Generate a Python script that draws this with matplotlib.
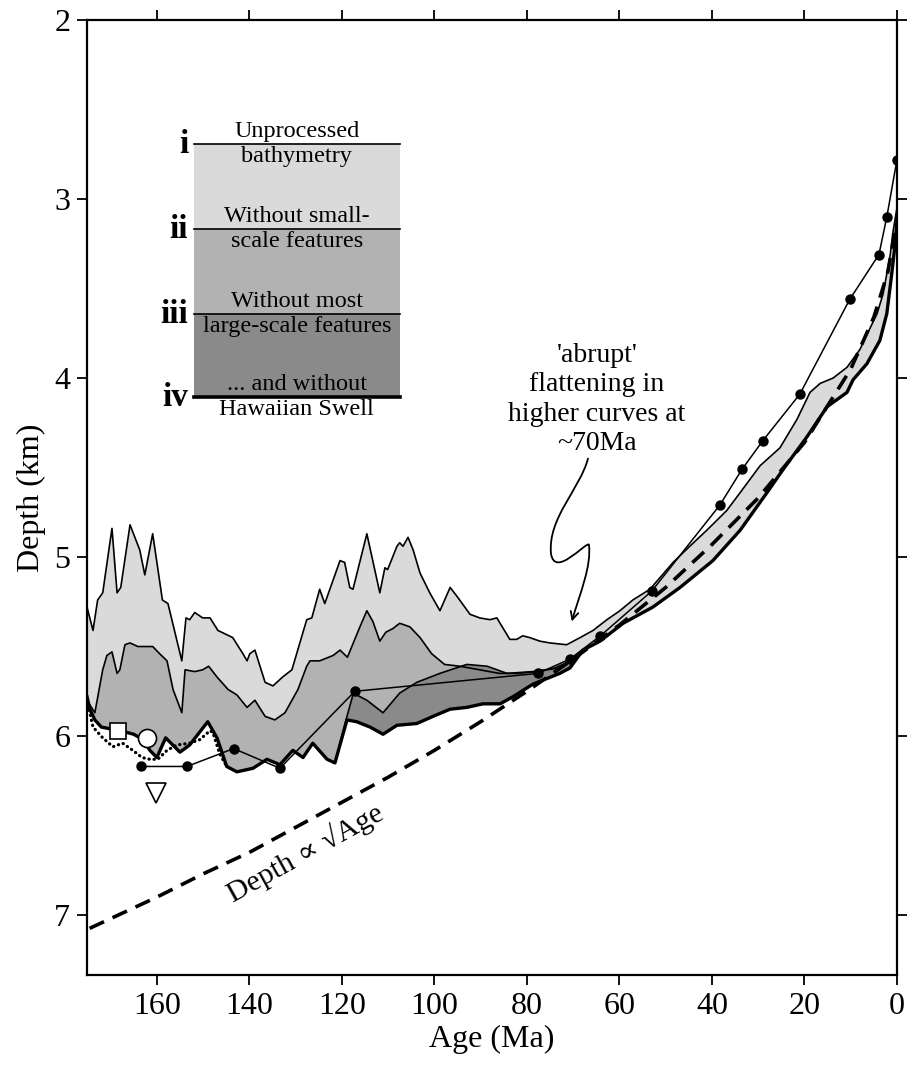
import numpy as np
import matplotlib
matplotlib.use('Agg')
import matplotlib.pyplot as plt
from matplotlib.path import Path
from matplotlib.patches import FancyArrowPatch, Rectangle

plt.rcParams['font.family'] = ['Liberation Serif', 'DejaVu Serif']

# ---- curve i : unprocessed bathymetry ----
age_i = [175.1, 173.8, 172.8, 171.7, 169.7, 168.6, 167.8, 165.8, 163.7, 162.6, 160.9, 158.8,
         157.6, 154.6, 153.7, 152.9, 151.8, 150.1, 148.5, 146.8, 143.6, 141.4, 140.5, 139.9,
         138.8, 136.6, 134.9, 132.8, 130.8, 127.6, 126.5, 124.8, 123.7, 120.4, 119.4, 118.3,
         117.6, 114.6, 111.8, 110.7, 110.1, 108.1, 107.5, 106.8, 105.7, 104.6, 103.1, 101.0,
         98.8, 96.6, 95.1, 92.3, 90.2, 88.0, 86.5, 83.7, 82.2, 80.9, 79.4, 77.2, 75.0, 71.4,
         68.5, 65.7, 62.7, 59.9, 57.1, 53.4, 48.4, 44.8, 41.1, 36.8, 33.9, 29.6, 25.3, 21.6,
         18.8, 16.6, 13.8, 10.8, 8.0, 5.8, 4.3, 3.0, 1.5, 0.9, 0.2, 0.0]
depth_i = [5.28, 5.41, 5.24, 5.20, 4.84, 5.20, 5.17, 4.82, 4.96, 5.10, 4.87, 5.24,
           5.26, 5.58, 5.34, 5.35, 5.31, 5.34, 5.34, 5.41, 5.45, 5.54, 5.58, 5.54,
           5.52, 5.70, 5.72, 5.67, 5.63, 5.35, 5.34, 5.18, 5.26, 5.02, 5.03, 5.17,
           5.18, 4.87, 5.20, 5.06, 5.07, 4.94, 4.92, 4.94, 4.89, 4.96, 5.09, 5.20,
           5.30, 5.17, 5.22, 5.32, 5.34, 5.35, 5.34, 5.46, 5.46, 5.44, 5.45, 5.47, 5.48, 5.49,
           5.45, 5.41, 5.35, 5.30, 5.24, 5.18, 5.03, 4.94, 4.85, 4.74, 4.64, 4.49, 4.39, 4.23,
           4.08, 4.03, 4.00, 3.94, 3.84, 3.72, 3.64, 3.53, 3.32, 3.19, 3.08, 3.05]

# ---- curve ii : without small-scale features ----
age_ii = [175.1, 173.4, 171.7, 170.8, 169.7, 168.6, 168.0, 166.9, 165.8, 164.1, 160.9, 159.4,
          157.8, 156.5, 154.6, 153.9, 151.8, 150.1, 148.8, 147.0, 144.6, 142.7, 140.5, 138.8,
          136.6, 134.5, 132.3, 129.5, 127.6, 126.9, 124.8, 121.9, 120.4, 118.8, 116.1, 114.6,
          113.3, 111.8, 110.5, 109.0, 107.5, 105.3, 103.1, 100.6, 97.8, 94.5, 90.2, 86.0,
          82.0, 78.0, 74.0, 71.4, 67.9]
depth_ii = [5.80, 5.87, 5.63, 5.55, 5.53, 5.65, 5.63, 5.49, 5.48, 5.50, 5.50, 5.54,
            5.58, 5.74, 5.87, 5.63, 5.64, 5.63, 5.61, 5.67, 5.74, 5.77, 5.84, 5.80,
            5.89, 5.91, 5.87, 5.74, 5.61, 5.58, 5.58, 5.55, 5.52, 5.56, 5.39, 5.30,
            5.36, 5.47, 5.42, 5.40, 5.37, 5.39, 5.45, 5.54, 5.60, 5.61, 5.63, 5.65,
            5.65, 5.64, 5.62, 5.59, 5.52]

# ---- curve iii : without most large-scale features ----
age_iii = [126.3, 123.2, 121.5, 119.0, 117.5, 116.1, 114.6, 111.1, 107.5, 103.8, 98.8,
           93.0, 88.6, 84.3, 78.7, 72.9, 70.0, 67.9]
depth_iii = [6.04, 6.13, 6.15, 5.90, 5.76, 5.78, 5.80, 5.87, 5.76, 5.70, 5.65,
             5.60, 5.61, 5.65, 5.64, 5.62, 5.58, 5.52]

# ---- curve iv : ... and without Hawaiian Swell ----
age_iv = [175.1, 174.5, 173.4, 172.0, 170.0, 168.0, 165.0, 163.0, 161.5, 160.0, 158.1, 155.0,
          152.9, 149.0, 147.0, 144.9, 142.7, 139.2, 136.2, 133.4, 130.6, 128.4, 126.3, 123.2,
          121.5, 118.9, 116.8, 113.9, 111.1, 108.1, 103.8, 100.3, 96.6, 93.0, 89.5, 85.8,
          83.0, 78.7, 72.9, 70.7, 67.9, 64.2, 59.2, 52.8, 46.9, 39.8, 33.9, 28.1, 24.6, 19.5,
          15.1, 10.8, 9.5, 6.5, 3.7, 2.2, 1.1, 0.4, 0.0]
depth_iv = [5.78, 5.85, 5.91, 5.95, 5.96, 5.97, 5.99, 6.02, 6.08, 6.12, 6.01, 6.09,
            6.05, 5.92, 6.01, 6.17, 6.20, 6.18, 6.13, 6.16, 6.08, 6.12, 6.04, 6.13,
            6.15, 5.91, 5.92, 5.95, 5.99, 5.94, 5.93, 5.89, 5.85, 5.84, 5.82, 5.82,
            5.78, 5.71, 5.65, 5.62, 5.52, 5.47, 5.37, 5.28, 5.17, 5.02, 4.85, 4.64, 4.51, 4.33,
            4.16, 4.08, 4.01, 3.92, 3.79, 3.64, 3.41, 3.25, 3.12]

# ---- dotted curve (old end) ----
age_dotted = [175.1, 173.8, 171.7, 169.5, 167.4, 165.2, 163.2, 161.5, 159.8, 157.8, 155.7,
              152.9, 150.7, 148.5, 147.9, 146.4, 144.9]
depth_dotted = [5.80, 5.95, 6.01, 6.06, 6.04, 6.08, 6.12, 6.13, 6.13, 6.08, 6.05,
                6.04, 6.02, 5.97, 5.98, 6.10, 6.17]

# ---- line with black dots ----
age_pts = [0.0, 2.2, 3.9, 10.2, 21.0, 29.0, 33.5, 38.3, 53.0, 64.1, 70.7, 77.6, 117.2,
           133.4, 143.4, 153.5, 163.5]
depth_pts = [2.78, 3.10, 3.31, 3.56, 4.09, 4.35, 4.51, 4.71, 5.19, 5.44, 5.57, 5.65, 5.75,
             6.18, 6.07, 6.17, 6.17]

# ---- Depth ~ sqrt(Age) reference (dashed) ----
age_sqrt = [0.5, 2, 5, 10, 20, 30, 40, 50, 60, 70, 80, 90, 100, 110, 120, 130, 140, 150, 160, 175]
depth_sqrt = [3.19, 3.41, 3.66, 3.95, 4.36, 4.67, 4.93, 5.17, 5.38, 5.57, 5.75, 5.92, 6.08,
              6.23, 6.37, 6.51, 6.65, 6.77, 6.90, 7.08]

# ---- single symbols ----
square_pt = (168.4, 5.97)
circle_pt = (162.2, 6.01)
triangle_pt = (160.2, 6.32)

light = '#dadada'
medium = '#b2b2b2'
dark = '#8a8a8a'

fig = plt.figure(figsize=(9.1, 10.65), dpi=100)
ax = fig.add_axes([0.0956, 0.0845, 0.8901, 0.8967])

# shaded bands: each curve filled downwards, then white below curve iv
BOTTOM = 8.0
ax.fill_between(age_i, depth_i, BOTTOM, color=light, lw=0, zorder=1)
ax.fill_between(age_ii, depth_ii, BOTTOM, color=medium, lw=0, zorder=1)
ax.fill_between(age_iii, depth_iii, BOTTOM, color=dark, lw=0, zorder=1)
ax.fill_between(age_iv, depth_iv, BOTTOM, color='white', lw=0, zorder=1)

ax.plot(age_i, depth_i, color='black', lw=1.2, zorder=3)
ax.plot(age_ii, depth_ii, color='black', lw=1.2, zorder=3)
ax.plot(age_iii, depth_iii, color='black', lw=1.2, zorder=3)
ax.plot(age_iv, depth_iv, color='black', lw=2.4, zorder=3)

ax.plot(age_sqrt, depth_sqrt, color='black', lw=2.6, dashes=(4.4, 2.6), zorder=2)
ax.plot(age_dotted, depth_dotted, color='black', lw=2.3, linestyle=(0, (0.1, 1.5)),
        dash_capstyle='round', zorder=3)
ax.plot(age_pts, depth_pts, color='black', lw=1.1, marker='o', ms=6.5, zorder=4)

ax.plot(*square_pt, marker='s', ms=12, mfc='white', mec='black', mew=1.2, zorder=5)
ax.plot(*circle_pt, marker='o', ms=13, mfc='white', mec='black', mew=1.2, zorder=5)
ax.plot(*triangle_pt, marker='v', ms=14, mfc='white', mec='black', mew=1.2, zorder=5)

# label for the dashed curve
ax.text(128.0, 6.65, 'Depth \u221d \u221aAge', rotation=29, ha='center', va='center',
        fontsize=21.5)

# annotation with the wiggly arrow
ax.text(64.9, 4.12, "'abrupt'\nflattening in\nhigher curves at\n~70Ma", ha='center',
        va='center', fontsize=20, linespacing=1.24)
verts = [(66.8, 4.45), (68.5, 4.62), (75.5, 4.78), (74.8, 4.98),
         (74.0, 5.12), (67.5, 4.92), (66.6, 4.93),
         (66.0, 5.05), (68.5, 5.20), (70.3, 5.36)]
codes = [Path.MOVETO] + [Path.CURVE4] * 9
arrow = FancyArrowPatch(path=Path(verts, codes), arrowstyle='->', mutation_scale=14,
                        lw=1.3, color='black', transform=ax.transData, zorder=6)
ax.add_patch(arrow)

# legend block (i - iv)
x0, x1 = 0.132, 0.386
levels = [0.870, 0.781, 0.692, 0.605]
for top, bot, col in zip(levels[:-1], levels[1:], [light, medium, dark]):
    ax.add_patch(Rectangle((x0, bot), x1 - x0, top - bot, transform=ax.transAxes,
                           facecolor=col, edgecolor='none', zorder=2))
romans = ['i', 'ii', 'iii', 'iv']
above = ['Unprocessed', 'Without small-', 'Without most', '... and without']
below = ['bathymetry', 'scale features', 'large-scale features', 'Hawaiian Swell']
widths = [1.2, 1.2, 1.2, 2.6]
for y, r, a, b, w in zip(levels, romans, above, below, widths):
    ax.plot([x0, x1], [y, y], color='black', lw=w, transform=ax.transAxes, zorder=3)
    ax.text(0.125, y, r, transform=ax.transAxes, ha='right', va='center', fontsize=24,
            fontweight='bold')
    ax.text((x0 + x1) / 2, y + 0.002, a, transform=ax.transAxes, ha='center',
            va='bottom', fontsize=17.5)
    ax.text((x0 + x1) / 2, y - 0.002, b, transform=ax.transAxes, ha='center',
            va='top', fontsize=17.5)

ax.set_xlim(175.1, 0)
ax.set_ylim(7.335, 2)
ax.set_xticks([160, 140, 120, 100, 80, 60, 40, 20, 0])
ax.set_yticks([2, 3, 4, 5, 6, 7])
ax.tick_params(direction='out', length=7, width=1.3, top=True, right=True,
               labelsize=23, pad=5)
for s in ax.spines.values():
    s.set_linewidth(1.6)
ax.set_xlabel('Age (Ma)', fontsize=23, labelpad=3)
ax.set_ylabel('Depth (km)', fontsize=23, labelpad=6)

fig.savefig('out.png', dpi=100)
